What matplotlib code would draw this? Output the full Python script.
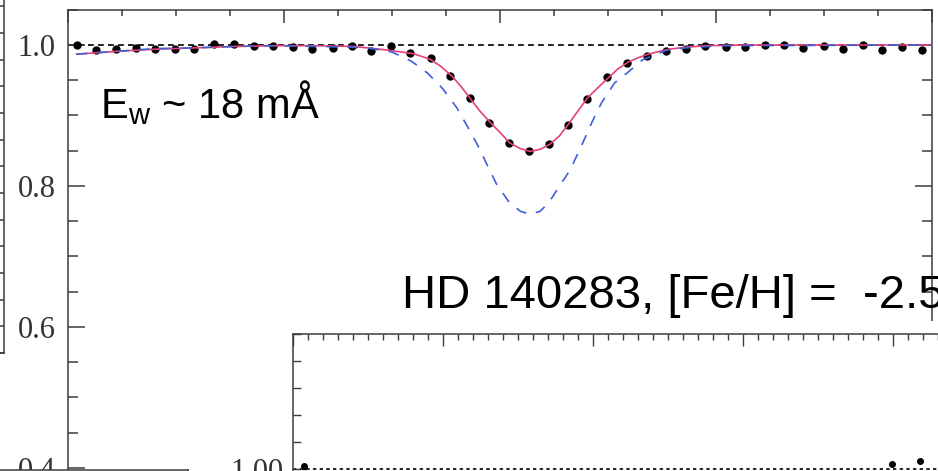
import numpy as np
import matplotlib
matplotlib.use('Agg')
import matplotlib.pyplot as plt
from matplotlib.ticker import MultipleLocator, FormatStrFormatter, NullFormatter
from matplotlib.patches import Rectangle

W, H = 938, 471

# observed spectrum of HD 140283 (normalised flux)
wave_obs = [6707.408, 6707.426, 6707.444, 6707.463, 6707.481, 6707.499, 6707.517,
            6707.535, 6707.554, 6707.572, 6707.590, 6707.608, 6707.626, 6707.645,
            6707.663, 6707.681, 6707.699, 6707.717, 6707.736, 6707.754, 6707.772,
            6707.790, 6707.808, 6707.827, 6707.845, 6707.863, 6707.881, 6707.899,
            6707.918, 6707.936, 6707.954, 6707.972, 6707.990, 6708.009, 6708.027,
            6708.045, 6708.063, 6708.081, 6708.100, 6708.118, 6708.136, 6708.154,
            6708.172, 6708.191]
flux_obs = [1.000, 0.993, 0.995, 0.996, 0.994, 0.995, 0.994, 1.001, 1.002, 0.999,
            0.998, 0.997, 0.995, 0.996, 0.999, 0.992, 0.998, 0.989, 0.981, 0.956,
            0.925, 0.889, 0.861, 0.849, 0.859, 0.886, 0.924, 0.954, 0.975, 0.985,
            0.992, 0.994, 0.998, 0.997, 0.997, 1.000, 1.000, 0.996, 0.999, 0.995,
            1.000, 0.993, 0.997, 0.993]

# best fit synthesis (red)
wave_fit = [6707.408, 6707.445, 6707.481, 6707.519, 6707.555, 6707.591, 6707.627,
            6707.664, 6707.689, 6707.719, 6707.735, 6707.745, 6707.756, 6707.764,
            6707.772, 6707.781, 6707.791, 6707.800, 6707.809, 6707.819, 6707.828,
            6707.837, 6707.846, 6707.855, 6707.863, 6707.872, 6707.881, 6707.891,
            6707.900, 6707.909, 6707.919, 6707.928, 6707.937, 6707.956, 6707.973,
            6707.991, 6708.027, 6708.200]
flux_fit = [0.987, 0.991, 0.994, 0.996, 0.998, 0.999, 0.999, 0.998, 0.994, 0.988,
            0.980, 0.970, 0.955, 0.941, 0.925, 0.907, 0.890, 0.876, 0.861, 0.853,
            0.849, 0.852, 0.859, 0.871, 0.887, 0.906, 0.925, 0.940, 0.953, 0.966,
            0.976, 0.982, 0.987, 0.994, 0.997, 0.999, 1.000, 1.000]

# comparison synthesis (blue dashed)
wave_cmp = [6707.408, 6707.445, 6707.481, 6707.519, 6707.555, 6707.591, 6707.627,
            6707.664, 6707.681, 6707.700, 6707.718, 6707.733, 6707.747, 6707.760,
            6707.770, 6707.780, 6707.789, 6707.797, 6707.809, 6707.819, 6707.828,
            6707.837, 6707.845, 6707.856, 6707.865, 6707.876, 6707.885, 6707.894,
            6707.906, 6707.919, 6707.932, 6707.955, 6707.973, 6708.004, 6708.200]
flux_cmp = [0.987, 0.991, 0.995, 0.996, 0.998, 0.999, 0.998, 0.997, 0.995, 0.990,
            0.977, 0.960, 0.938, 0.911, 0.884, 0.856, 0.827, 0.802, 0.776, 0.764,
            0.760, 0.764, 0.776, 0.802, 0.823, 0.859, 0.890, 0.918, 0.946, 0.962,
            0.979, 0.993, 0.996, 0.999, 1.000]

# wide panel below, only its top strip shows
wave_wide_obs = [6706.037, 6707.997, 6708.090]
flux_wide_obs = [1.001, 1.002, 1.003]
wave_wide_fit = [6706.000, 6706.120, np.nan, 6707.830, 6708.520]
flux_wide_fit = [0.999, 0.999, np.nan, 0.999, 0.999]

SPINE = '#3c3c3c'
RED = '#e4407a'
BLUE = '#3f5fd8'


def rect(l, t, r, b):
    # pixel box -> figure fraction
    return [l / W, 1 - b / H, (r - l) / W, (b - t) / H]


def style_spines(ax):
    for s in ax.spines.values():
        s.set_color(SPINE)
        s.set_linewidth(1.1)


fig = plt.figure(figsize=(W / 100, H / 100), dpi=100)

# main panel
ax = fig.add_axes(rect(68, 9.75, 932, 503.25))
ax.set_xlim(6707.4, 6708.2)
ax.set_ylim(0.35, 1.05)
ax.axhline(1.0, color='k', lw=1.2, ls=(0, (3.5, 2.5)), zorder=1)
ax.plot(wave_obs, flux_obs, 'o', color='k', ms=5, zorder=2)
ax.plot(wave_fit, flux_fit, '-', color=RED, lw=1.2, zorder=3)
ax.plot(wave_cmp, flux_cmp, color=BLUE, lw=1.2, ls=(0, (6.5, 6)), zorder=4)

ax.xaxis.set_major_locator(MultipleLocator(0.2))
ax.xaxis.set_minor_locator(MultipleLocator(0.05))
ax.yaxis.set_major_locator(MultipleLocator(0.2))
ax.yaxis.set_minor_locator(MultipleLocator(0.05))
ax.yaxis.set_major_formatter(FormatStrFormatter('%.1f'))
ax.tick_params(axis='x', which='both', direction='in', top=True, bottom=False,
               labelbottom=False, color=SPINE, width=1.1)
ax.tick_params(axis='x', which='major', length=9.5)
ax.tick_params(axis='x', which='minor', length=4.5)
ax.tick_params(axis='y', which='both', direction='in', left=True, right=True,
               color=SPINE, width=1.1)
ax.tick_params(axis='y', which='major', length=12.5, pad=9, labelsize=22,
               labelcolor='#333333', labelfontfamily='Liberation Serif')
ax.tick_params(axis='y', which='minor', length=7)
style_spines(ax)

# neighbouring panel on the left, only its right edge shows
axl = fig.add_axes(rect(-200, -20, 4, 353))
axl.set_ylim(0, 373 / 26.67)
axl.yaxis.set_major_locator(MultipleLocator(1))
axl.tick_params(axis='y', direction='in', left=False, right=True, labelleft=False,
                length=6, color=SPINE, width=1.1)
axl.tick_params(axis='x', bottom=False, labelbottom=False)
style_spines(axl)

# neighbouring panel bottom left, only its top edge shows
axb = fig.add_axes(rect(-60, 470, 188, 620))
axb.set_xticks([])
axb.set_yticks([])
style_spines(axb)
axb.set_zorder(1.5)

# white gap above the wide panel
fig.patches.append(Rectangle((293 / W, 1 - 334 / H), (W - 293) / W, 13 / H,
                             transform=fig.transFigure, facecolor='white',
                             edgecolor='none', zorder=1))

# wide panel lower right
axi = fig.add_axes(rect(293, 334, 1050, 550))
axi.set_zorder(2)
axi.set_xlim(6706.0, 6706.0 + 757 / 300)
axi.set_ylim(0.97, 1.05)
axi.axhline(1.0, color='k', lw=1.2, ls=(0, (2, 2)), zorder=1)
axi.plot(wave_wide_obs, flux_wide_obs, 'o', color='k', ms=4, zorder=2)
axi.plot(wave_wide_fit, flux_wide_fit, '-', color=RED, lw=1.4, zorder=3)
axi.plot(wave_wide_fit, flux_wide_fit, color=BLUE, lw=1.2, ls=(0, (4, 4)), zorder=4)
axi.xaxis.set_major_locator(MultipleLocator(0.5))
axi.xaxis.set_minor_locator(MultipleLocator(0.05))
axi.set_yticks([1.0])
axi.yaxis.set_minor_locator(MultipleLocator(0.01))
axi.yaxis.set_major_formatter(FormatStrFormatter('%.2f'))
axi.xaxis.set_major_formatter(NullFormatter())
axi.tick_params(axis='x', which='both', direction='in', top=True, bottom=False,
                labelbottom=False, color=SPINE, width=1.0)
axi.tick_params(axis='x', which='major', length=8.5)
axi.tick_params(axis='x', which='minor', length=4.3)
axi.tick_params(axis='y', which='both', direction='in', left=True, right=False,
                color=SPINE, width=1.0)
axi.tick_params(axis='y', which='major', length=10, pad=7, labelsize=22,
                labelcolor='#333333', labelfontfamily='Liberation Serif')
axi.tick_params(axis='y', which='minor', length=6)
style_spines(axi)

fig.text(100 / W, 1 - 118 / H, r'E$_{\mathregular{w}}$ ~ 18 mÅ', fontsize=30,
         family='Liberation Sans', va='baseline', ha='left', zorder=5)
fig.text(402 / W, 1 - 308 / H, 'HD 140283, [Fe/H] =  -2.5', fontsize=34,
         family='Liberation Sans', va='baseline', ha='left', zorder=5)

fig.savefig('out.png', dpi=100)
